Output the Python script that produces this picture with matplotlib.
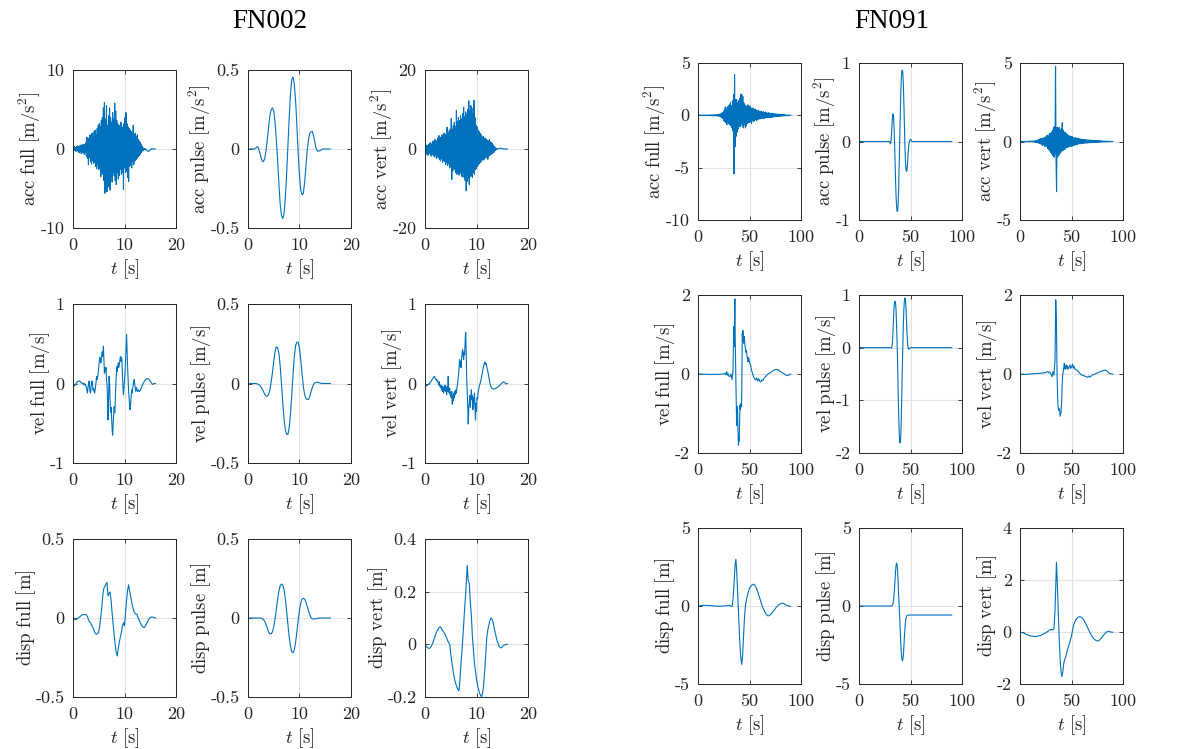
import numpy as np
import matplotlib
matplotlib.use("Agg")
import matplotlib.pyplot as plt

plt.rcParams['mathtext.fontset'] = 'cm'
plt.rcParams['font.family'] = ['DejaVu Serif']
plt.rcParams['axes.unicode_minus'] = False

# ------------------------------------------------------------------ data
FN002_DURATION = 16.0
FN091_DURATION = 90.0

# FN002 (uniform samples over 0..16 s)
FN002_ACC_FULL = [
    0, 0.1, -0.2, 0.3, -0.2, 0.2, -0.3, 0.3, -0.2, 0.4, -0.3,
    0.3, -0.5, 0.4, -0.3, 0.5, -0.6, 0.4, -0.5, 0.6, -0.4, 0.5, -0.7, 0.6, -0.5, 0.8,
    -0.9, 1.5, -1.2, 1.0, -2.0, 1.4, -1.1, 1.8, -1.6, 1.2, -1.9, 2.0, -1.5, 1.6, -1.8,
    2.2, -1.7, 2.4, -2.2, 1.8, -2.5, 2.6, -2.0, 3.0, -2.6,
    3.2, -2.4, 2.8, -3.5, 3.6, -2.9, 4.0, -3.2, 5.2, -4.0,
    5.9, -5.6, 3.8, -4.5, 5.5, -5.4, 3.0, -3.8, 4.2, -4.8,
    5.2, -5.2, 4.0, -3.5, 3.4, -4.2, 4.6, -3.0, 3.8, -3.4,
    5.8, -4.0, 4.8, -4.5, 3.6, -3.0, 3.2, -3.8, 2.9, -3.4,
    3.0, -2.6, 3.4, -3.2, 2.4, -3.0, 2.8, -5.1, 3.2, -2.4,
    4.0, -3.0, 4.6, -2.8, 3.2, -3.6, 2.8, -4.1, 2.6, -2.2,
    2.4, -2.0, 2.2, -2.4, 2.0, -1.6, 3.0, -2.0, 1.8, -1.5,
    2.0, -1.4, 1.6, -1.2, 1.8, -1.0, 1.2, -0.9, 1.0, -0.7,
    0.8, -0.5, 0.6, -0.3, 0.3, -0.2, 0.1, -0.1, 0.05, -0.05,
    0.0, -0.1, -0.15, -0.2, -0.25, -0.3, -0.3, -0.25, -0.2, -0.1,
    -0.05, 0.0, 0.05, 0.05, 0.0, -0.02, 0.0, 0.0, 0.0, 0.0,
]
FN002_ACC_PULSE = [
    0, 0, 0, 0, 0, 0, 0.005, 0.015, 0.01, -0.02, -0.05, -0.075, -0.08, -0.06,
    -0.01, 0.06, 0.14, 0.21, 0.25, 0.26, 0.24, 0.17, 0.06, -0.07, -0.22, -0.35,
    -0.42, -0.44, -0.41, -0.31, -0.16, 0.02, 0.20, 0.35, 0.44, 0.455, 0.41, 0.30,
    0.14, -0.03, -0.17, -0.26, -0.29, -0.28, -0.21, -0.11, -0.01, 0.06, 0.10,
    0.11, 0.11, 0.08, 0.04, 0.0, -0.012, -0.014, -0.01, -0.005, 0, 0, 0, 0, 0, 0, 0,
]
FN002_ACC_VERT = [
    0, 0.6, -0.8, 1.0, -1.4, 0.8, -1.6, 1.2, -1.0, 1.4, -1.2,
    1.6, -1.8, 1.2, -1.4, 2.0, -1.6, 1.8, -2.0, 2.4, -1.5,
    2.2, -2.4, 1.8, -2.0, 2.8, -2.2, 3.4, -2.6, 2.6, -3.0,
    3.0, -2.5, 3.6, -3.4, 2.8, -3.0, 4.0, -3.2, 3.4, -4.0,
    3.8, -3.5, 5.5, -4.2, 4.0, -3.6, 4.6, -4.8, 5.0, -4.4,
    7.7, -7.7, 5.0, -5.6, 6.0, -5.0, 6.8, -5.2, 5.6, -6.0,
    9.8, -6.4, 7.0, -5.8, 8.0, -6.6, 7.2, -5.0, 8.4, -6.2,
    7.6, -7.0, 9.0, -6.0, 10.6, -7.2, 8.2, -8.0, 9.4, -10.6,
    8.8, -8.2, 10.0, -7.4, 12.2, -9.0, 9.6, -7.0, 11.0, -6.8,
    10.4, -7.2, 9.0, -6.0, 12.3, -6.4, 8.0, -5.2, 6.0, -5.0,
    5.6, -4.4, 4.8, -4.0, 4.4, -3.6, 4.0, -3.4, 3.6, -3.0,
    3.0, -2.6, 3.2, -2.8, 2.6, -2.4, 2.8, -2.2, 2.4, -2.0,
    2.2, -2.6, 2.0, -1.8, 2.4, -1.6, 1.8, -1.4, 1.6, -1.2,
    1.4, -1.0, 1.0, -0.8, 0.6, -0.4, 0.3, -0.2, 0.1, -0.05,
    0.05, 0.05, 0.1, 0.1, 0.15, 0.15, 0.2, 0.2, 0.15, 0.1,
    0.1, 0.05, 0.05, 0.0, 0.0, 0.0, 0.0, 0.0, 0.0, 0.0,
]
FN002_VEL_FULL = [
    0, -0.01, -0.02, -0.03, -0.02, -0.01, 0.0, 0.01, 0.02, 0.02, 0.03,
    0.03, 0.03, 0.03, 0.02, 0.02, 0.01, 0.01, 0.0, 0.0, -0.01,
    -0.01, 0.0, -0.02, -0.01, -0.03, -0.05, -0.08, -0.12, -0.05, -0.02,
    0.03, -0.04, -0.10, -0.12, -0.04, 0.0, 0.03, -0.03, -0.08, -0.06,
    -0.10, -0.12, -0.08, -0.02, 0.04, 0.09, 0.05, 0.08, 0.14, 0.20,
    0.28, 0.33, 0.30, 0.26, 0.30, 0.38, 0.40, 0.34, 0.47, 0.30,
    0.13, 0.20, 0.15, 0.20, 0.05, 0.0, -0.20, -0.46, -0.20, 0.09,
    0.02, -0.20, -0.36, -0.30, -0.45, -0.58, -0.65, -0.50, -0.38, -0.29,
    -0.37, -0.25, -0.05, 0.10, 0.21, 0.15, 0.22, 0.26, 0.20, 0.25,
    0.30, 0.34, 0.28, 0.33, 0.30, 0.10, -0.05, -0.14, -0.05, 0.05,
    0.13, 0.30, 0.45, 0.62, 0.40, 0.21, 0.05, -0.10, -0.20, -0.28,
    -0.33, -0.25, -0.15, -0.08, -0.12, -0.05, -0.02, 0.03, 0.05, -0.02,
    -0.06, -0.10, -0.05, -0.07, -0.09, -0.10, -0.08, -0.09, -0.10, -0.09,
    -0.08, -0.06, -0.05, -0.03, -0.02, 0.0, 0.01, 0.02, 0.03, 0.04,
    0.05, 0.055, 0.06, 0.06, 0.06, 0.06, 0.055, 0.05, 0.04, 0.03,
    0.02, 0.01, 0.0, -0.01, -0.01, -0.01, 0.0, 0.0, 0.0, 0.0,
]
FN002_VEL_PULSE = [
    0, 0, 0, 0, 0, 0, 0, -0.002, -0.005, -0.01, -0.02, -0.035, -0.05, -0.068,
    -0.078, -0.08, -0.07, -0.04, 0.01, 0.07, 0.14, 0.20, 0.23, 0.225, 0.19, 0.11,
    0.0, -0.12, -0.22, -0.29, -0.32, -0.32, -0.28, -0.19, -0.07, 0.06, 0.17, 0.24,
    0.26, 0.26, 0.22, 0.15, 0.06, -0.02, -0.07, -0.095, -0.10, -0.10, -0.08, -0.05,
    -0.025, -0.005, 0.005, 0.008, 0.008, 0.006, 0.003, 0.001, 0, 0, 0, 0, 0, 0, 0,
]
FN002_VEL_VERT = [
    0, -0.02, -0.03, -0.03, -0.02, -0.02, -0.01, -0.01, 0.0, 0.0, 0.01,
    0.02, 0.03, 0.04, 0.05, 0.06, 0.07, 0.08, 0.09, 0.08, 0.06,
    0.05, 0.04, 0.05, 0.02, 0.03, 0.0, -0.02, 0.02, -0.04, -0.05,
    -0.02, -0.08, -0.03, -0.10, -0.05, -0.12, -0.04, -0.09, -0.02, -0.10,
    -0.06, -0.14, -0.04, -0.10, 0.09, -0.08, -0.12, -0.06, -0.15, -0.12,
    -0.18, -0.10, -0.26, -0.15, -0.22, -0.12, -0.18, -0.10, -0.14, -0.08,
    -0.12, -0.05, -0.02, 0.05, 0.10, 0.18, 0.30, 0.22, 0.28, 0.20,
    0.32, 0.38, 0.43, 0.35, 0.30, 0.40, 0.36, 0.55, 0.64, 0.40,
    0.05, -0.12, -0.30, -0.51, -0.30, -0.25, -0.15, -0.30, -0.20, -0.08,
    -0.20, -0.15, -0.33, -0.18, -0.25, -0.12, -0.30, -0.46, -0.25, -0.35,
    -0.18, -0.20, -0.12, -0.08, -0.05, -0.02, 0.0, 0.03, 0.05, 0.09,
    0.12, 0.16, 0.19, 0.22, 0.25, 0.27, 0.26, 0.24, 0.25, 0.21,
    0.18, 0.15, 0.12, 0.08, 0.04, 0.0, -0.02, -0.04, -0.05, -0.06,
    -0.065, -0.07, -0.07, -0.07, -0.07, -0.065, -0.06, -0.06, -0.055, -0.05,
    -0.045, -0.04, -0.035, -0.03, -0.02, -0.015, -0.01, -0.005, 0.0, 0.01,
    0.02, 0.02, 0.02, 0.015, 0.01, 0.0, -0.005, -0.005, 0.0, 0.0,
]
FN002_DISP_FULL = [
    0, -0.005, -0.01, -0.01, -0.005,
    0.0, 0.005, 0.01, 0.015, 0.02,
    0.02, 0.022, 0.022, 0.02, 0.01,
    -0.01, -0.025, -0.03, -0.045, -0.055,
    -0.07, -0.09, -0.1, -0.102, -0.1,
    -0.085, -0.05, 0.01, 0.07, 0.15,
    0.19, 0.2, 0.215, 0.225, 0.14,
    0.155, 0.165, 0.11, 0.03, -0.04,
    -0.11, -0.17, -0.22, -0.24, -0.19,
    -0.15, -0.12, -0.09, -0.05, -0.03,
    -0.05, 0.03, 0.11, 0.175, 0.21,
    0.17, 0.14, 0.1, 0.07, 0.045,
    0.03, 0.025, 0.025, 0.005, -0.01,
    -0.025, -0.04, -0.05, -0.058, -0.06,
    -0.055, -0.04, -0.03, -0.015, -0.005,
    0.003, 0.006, 0.006, 0.004, 0.002,
    0.0,
]
FN002_DISP_PULSE = [
    0, 0, 0, 0, 0, 0, 0, 0, 0, 0, 0,
    -0.003, -0.01, -0.022, -0.04, -0.065, -0.088, -0.1, -0.1, -0.088, -0.055,
    -0.005, 0.055, 0.12, 0.17, 0.205, 0.215, 0.21, 0.18, 0.12, 0.045, -0.04,
    -0.12, -0.18, -0.215, -0.22, -0.2, -0.15, -0.085, -0.015, 0.05, 0.095, 0.12,
    0.125, 0.12, 0.1, 0.075, 0.045, 0.02, 0.002, -0.005, -0.006, -0.006, -0.004,
    -0.002, -0.001, 0, 0, 0, 0, 0, 0, 0, 0, 0,
]
FN002_DISP_VERT = [
    0, -0.006, -0.011, -0.014, -0.015,
    -0.014, -0.008, 0.0, 0.01, 0.022,
    0.034, 0.044, 0.053, 0.06, 0.065,
    0.066, 0.06, 0.053, 0.047, 0.042,
    0.034, 0.024, 0.014, 0.006, 0.0,
    -0.036, -0.065, -0.093, -0.118, -0.138,
    -0.152, -0.163, -0.172, -0.176, -0.13,
    -0.07, -0.02, 0.04, 0.105, 0.165,
    0.226, 0.3, 0.24, 0.232, 0.16,
    0.11, 0.03, -0.02, -0.07, -0.1,
    -0.135, -0.155, -0.172, -0.185, -0.195,
    -0.198, -0.185, -0.15, -0.1, -0.035,
    0.028, 0.055, 0.073, 0.09, 0.1,
    0.097, 0.085, 0.067, 0.047, 0.03,
    0.013, 0.003, -0.007, -0.013, -0.013,
    -0.01, -0.006, -0.003, -0.001, 0.0,
    0.0,
]

# FN091 accelerations (uniform samples over 0..90 s)
FN091_ACC_FULL = [
    0, 0.02, -0.02, 0.03, -0.03, 0.02, -0.02, 0.03, -0.03, 0.02,
    -0.03, 0.03, -0.02, 0.03, -0.03, 0.02, -0.02, 0.03, -0.03, 0.02,
    -0.03, 0.04, -0.04, 0.03, -0.04, 0.04, -0.03, 0.05, -0.05, 0.04,
    -0.05, 0.06, -0.05, 0.05, -0.06, 0.06, -0.05, 0.07, -0.07, 0.06,
    -0.08, 0.1, -0.1, 0.12, -0.15, 0.15, -0.2, 0.25, -0.3, 0.3,
    -0.5, 0.5, -0.6, 0.8, -0.7, 0.6, -0.9, 0.8, -0.6, 0.9,
    -0.8, 1.0, -0.9, 1.2, -1.0, 0.9, -1.2, 1.4, -1.5, 2.0,
    -5.6, 3.9, -3.0, 1.5, -2.0, 1.5, -1.6, 1.2, -1.3, 1.4,
    -1.0, 1.6, -1.1, 2.0, -0.8, 2.0, -1.0, 1.8, -1.2, 1.2,
    -0.9, 1.0, -1.2, 0.8, -1.0, 0.9, -0.8, 1.0, -0.7, 0.8,
    -0.7, 0.9, -0.6, 0.7, -0.8, 0.6, -0.5, 0.7, -0.6, 0.5,
    -0.5, 0.6, -0.4, 0.5, -0.5, 0.4, -0.4, 0.5, -0.35, 0.4,
    -0.35, 0.4, -0.3, 0.35, -0.3, 0.3, -0.25, 0.35, -0.3, 0.25,
    -0.25, 0.3, -0.2, 0.25, -0.25, 0.2, -0.2, 0.25, -0.2, 0.2,
    -0.18, 0.2, -0.2, 0.15, -0.18, 0.2, -0.15, 0.15, -0.15, 0.12,
    -0.12, 0.15, -0.12, 0.1, -0.12, 0.12, -0.1, 0.1, -0.1, 0.08,
    -0.08, 0.1, -0.08, 0.08, -0.07, 0.06, -0.06, 0.07, -0.05, 0.05,
    -0.05, 0.04, -0.04, 0.03, -0.03, 0.02, -0.02, 0.02, -0.01, 0.01,
    0,
]
FN091_ACC_VERT = [
    0, 0.01, -0.01, 0.01, -0.01, 0.01, -0.01, 0.01, -0.01, 0.01,
    -0.01, 0.01, -0.01, 0.01, -0.01, 0.01, -0.01, 0.02, -0.02, 0.02,
    -0.02, 0.02, -0.02, 0.03, -0.03, 0.03, -0.03, 0.04, -0.04, 0.04,
    -0.05, 0.05, -0.05, 0.06, -0.08, 0.1, -0.1, 0.15, -0.12, 0.15,
    -0.15, 0.2, -0.18, 0.2, -0.25, 0.2, -0.2, 0.25, -0.3, 0.25,
    -0.3, 0.35, -0.3, 0.4, -0.45, 0.35, -0.5, 0.5, -0.6, 0.5,
    -0.7, 0.6, -0.8, 0.7, -0.9, 0.9, -1.0, 0.95, -0.8, 4.8,
    -1.2, -3.2, 0.9, -1.0, 0.8, -0.9, 0.9, -0.8, 0.7, -0.7,
    0.8, -0.6, 1.2, -0.6, 0.7, -0.5, 0.6, -0.5, 0.6, -0.4,
    0.5, -0.4, 0.45, -0.35, 0.4, -0.35, 0.35, -0.3, 0.35, -0.3,
    0.3, -0.3, 0.3, -0.25, 0.25, -0.25, 0.2, -0.2, 0.25, -0.2,
    0.2, -0.2, 0.2, -0.15, 0.2, -0.15, 0.15, -0.15, 0.15, -0.12,
    0.15, -0.12, 0.12, -0.12, 0.12, -0.1, 0.12, -0.1, 0.1, -0.1,
    0.1, -0.1, 0.1, -0.08, 0.1, -0.08, 0.08, -0.08, 0.08, -0.07,
    0.08, -0.07, 0.07, -0.06, 0.07, -0.06, 0.06, -0.06, 0.06, -0.05,
    0.05, -0.05, 0.05, -0.05, 0.05, -0.04, 0.05, -0.04, 0.04, -0.04,
    0.04, -0.03, 0.03, -0.03, 0.03, -0.03, 0.02, -0.02, 0.02, -0.02,
    0.02, -0.02, 0.01, -0.01, 0.01, -0.01, 0.01, -0.01, 0.0, 0.0,
    0,
]
# FN091 (time [s], value) samples
FN091_ACC_PULSE = [
    (0, 0), (29.5, 0), (30, -0.01), (30.5, -0.03), (31, -0.01), (31.5, 0.08),
    (32, 0.2), (32.5, 0.31), (33, 0.35), (33.5, 0.33), (34, 0.2), (34.5, 0.0),
    (35, -0.25), (35.5, -0.5), (36, -0.7), (36.5, -0.83), (37, -0.89), (37.5, -0.88),
    (38, -0.8), (38.5, -0.6), (39, -0.3), (39.5, 0.0), (40, 0.3), (40.5, 0.57),
    (41, 0.78), (41.5, 0.89), (42, 0.91), (42.5, 0.88), (43, 0.75), (43.5, 0.52),
    (44, 0.25), (44.5, -0.02), (45, -0.22), (45.5, -0.34), (46, -0.38), (46.5, -0.37),
    (47, -0.3), (47.5, -0.2), (48, -0.1), (48.5, -0.03), (49, 0.0), (49.5, 0.02),
    (50, 0.03), (50.5, 0.02), (51, 0.0), (90, 0.0),
]
FN091_VEL_FULL = [
    (0, 0), (10, -0.01), (20, -0.01), (25, 0.0), (26, 0.02), (27, -0.02), (27.7, 0.06),
    (28.5, -0.03), (29, 0.02), (30, -0.05), (31, -0.07), (32, 0.0), (33, -0.14),
    (33.5, -0.05), (34, 0.1), (34.4, 0.7), (34.7, 1.2), (35.0, 0.9), (35.2, 0.7),
    (35.5, 1.4), (35.8, 1.9), (36.1, 1.0), (36.5, 0.27), (37.0, -0.5), (37.5, -1.3),
    (38.0, -1.0), (38.3, -0.83), (38.8, -1.4), (39.3, -1.8), (39.7, -1.6), (40.0, -1.7),
    (40.4, -1.2), (40.7, -0.79), (41.1, -0.9), (41.5, -0.75), (41.9, -0.8), (42.3, -0.83),
    (42.7, 0.2), (43.0, 1.03), (43.3, 0.9), (43.6, 1.1), (44.0, 0.85), (44.3, 0.78),
    (44.7, 0.9), (45.0, 0.95), (45.5, 0.75), (46.0, 0.65), (46.5, 0.55), (47.0, 0.6),
    (47.5, 0.48), (48.0, 0.4), (48.5, 0.31), (49.0, 0.42), (49.5, 0.37), (50.0, 0.3),
    (51.0, 0.23), (52.0, 0.1), (53.0, 0.0), (54.0, -0.07), (55.0, -0.12), (56.0, -0.15),
    (57.0, -0.1), (58.0, -0.18), (59.0, -0.12), (60.0, -0.19), (61.0, -0.2), (62.0, -0.15),
    (63.0, -0.17), (64.0, -0.11), (66.0, -0.05), (68.0, 0.0), (70.0, 0.03), (72.0, 0.07),
    (74.0, 0.1), (76.0, 0.12), (77.0, 0.1), (78.0, 0.11), (80.0, 0.06), (82.0, 0.03),
    (84.0, 0.0), (86.0, -0.04), (88.0, -0.03), (90.0, 0.0),
]
FN091_VEL_PULSE = [
    (0, 0), (31, 0), (31.5, -0.01), (32, 0.02), (32.5, 0.1), (33, 0.3), (33.5, 0.55),
    (34, 0.75), (34.5, 0.86), (35, 0.88), (35.5, 0.85), (36, 0.7), (36.5, 0.4),
    (37, 0.1), (37.5, -0.3), (38, -0.8), (38.5, -1.25), (39, -1.6), (39.5, -1.78),
    (40, -1.81), (40.5, -1.7), (41, -1.4), (41.5, -0.95), (42, -0.45), (42.5, 0.0),
    (43, 0.4), (43.5, 0.7), (44, 0.88), (44.5, 0.94), (45, 0.93), (45.5, 0.8),
    (46, 0.58), (46.5, 0.33), (47, 0.13), (47.5, 0.02), (48, -0.02), (48.5, -0.03),
    (49, -0.02), (50, 0.0), (90, 0.0),
]
FN091_VEL_VERT = [
    (0, 0), (5, -0.01), (10, 0.0), (15, 0.01), (20, 0.02), (24, 0.03), (27, 0.06),
    (28, 0.03), (29, 0.05), (30, 0.0), (31, -0.07), (32, 0.06), (33, -0.03), (34, 0.36),
    (34.7, 1.88), (35.3, 1.37), (36, 0.0), (36.7, -0.75), (37.5, -0.92), (38.3, -0.88),
    (39, -1.07), (39.8, -0.98), (40.5, -0.66), (41, -0.24), (41.5, 0.0), (42.3, 0.1),
    (43, 0.27), (43.5, 0.15), (44, 0.12), (44.5, 0.2), (45, 0.23), (45.5, 0.14),
    (46, 0.2), (46.7, 0.12), (47.5, 0.17), (48.5, 0.23), (49.2, 0.14), (50, 0.17),
    (51, 0.25), (51.7, 0.15), (52.5, 0.2), (53.2, 0.12), (54, 0.12), (55, 0.1),
    (56, 0.08), (57, 0.05), (58, 0.02), (60, -0.03), (62, -0.04), (64, -0.07),
    (66, -0.08), (67, -0.05), (68, -0.08), (70, -0.03), (73, 0.0), (76, 0.04),
    (80, 0.08), (83, 0.1), (85, 0.06), (87, 0.01), (89.5, 0.0), (90, 0.0),
]
FN091_DISP_FULL = [
    (0, 0), (5, 0.04), (10, 0.04), (15, 0.01), (20, -0.02), (25, 0.0), (30, 0.04),
    (32, 0.0), (33, -0.04), (34, 0.39), (35, 1.46), (36, 2.64), (36.8, 3.0), (37.5, 2.3),
    (38.5, 0.8), (39.5, -0.69), (40.5, -2.2), (41.5, -3.26), (42.5, -3.75), (43.3, -3.2),
    (44, -2.2), (45, -0.9), (46, 0.0), (47, 0.39), (48.5, 0.82), (50, 1.14), (52, 1.33),
    (54, 1.4), (56, 1.25), (58, 0.92), (60, 0.49), (62, 0.06), (64, -0.26), (66, -0.52),
    (68, -0.64), (70, -0.58), (72, -0.43), (74, -0.26), (76, -0.08), (78, 0.06),
    (80, 0.13), (82, 0.19), (84, 0.13), (86, 0.04), (88, 0.0), (90, -0.02),
]
FN091_DISP_PULSE = [
    (0, 0), (31.5, 0), (32, 0.01), (32.5, 0.05), (33, 0.15), (33.5, 0.35), (34, 0.7),
    (34.5, 1.15), (35, 1.7), (35.5, 2.25), (36, 2.6), (36.5, 2.75), (37, 2.65),
    (37.5, 2.2), (38, 1.5), (38.5, 0.7), (39, 0.05), (39.5, -0.7), (40, -1.5),
    (40.5, -2.3), (41, -2.9), (41.5, -3.3), (42, -3.5), (42.5, -3.45), (43, -3.2),
    (43.5, -2.7), (44, -2.1), (44.5, -1.55), (45, -1.1), (45.5, -0.85), (46, -0.7),
    (46.5, -0.62), (47, -0.59), (48, -0.58), (90, -0.58),
]
FN091_DISP_VERT = [
    (0, 0), (3, -0.03), (6, -0.09), (10, -0.15), (15, -0.18), (20, -0.13), (25, -0.03),
    (28, 0.05), (30, 0.1), (32, 0.08), (33, 0.14), (34, 0.85), (34.8, 1.87), (35.4, 2.67),
    (36, 2.13), (37, 0.97), (38, -0.18), (39, -1.08), (40, -1.59), (40.7, -1.72),
    (41.5, -1.55), (42.5, -1.2), (43.5, -1.05), (44.5, -0.95), (46, -0.69), (48, -0.44),
    (50, -0.15), (52, 0.27), (54, 0.46), (56, 0.56), (58, 0.59), (60, 0.56), (62, 0.46),
    (64, 0.31), (66, 0.14), (68, -0.03), (70, -0.18), (72, -0.28), (74, -0.33),
    (76, -0.35), (78, -0.28), (80, -0.18), (82, -0.08), (84, 0.0), (86, 0.03), (88, 0.0),
    (90, -0.01),
]

ROW_NAMES = ["acc", "vel", "disp"]
COL_NAMES = ["full", "pulse", "vert"]
ROW_UNITS = ["m/s^2", "m/s", "m"]

FN002_YTICKS = [
    [[-10, 0, 10], [-0.5, 0, 0.5], [-20, 0, 20]],
    [[-1, 0, 1], [-0.5, 0, 0.5], [-1, 0, 1]],
    [[-0.5, 0, 0.5], [-0.5, 0, 0.5], [-0.2, 0, 0.2, 0.4]],
]
FN091_YTICKS = [
    [[-10, -5, 0, 5], [-1, 0, 1], [-5, 0, 5]],
    [[-2, 0, 2], [-2, -1, 0, 1], [-2, 0, 2]],
    [[-5, 0, 5], [-5, 0, 5], [-2, 0, 2, 4]],
]
FN002_XTICKS = [0, 10, 20]
FN091_XTICKS = [0, 50, 100]


def uniform(values, duration):
    v = np.asarray(values, dtype=float)
    return np.linspace(0.0, duration, len(v)), v


def pairs(samples):
    a = np.asarray(samples, dtype=float)
    return a[:, 0], a[:, 1]


FN002_SERIES = [
    [uniform(FN002_ACC_FULL, FN002_DURATION), uniform(FN002_ACC_PULSE, FN002_DURATION),
     uniform(FN002_ACC_VERT, FN002_DURATION)],
    [uniform(FN002_VEL_FULL, FN002_DURATION), uniform(FN002_VEL_PULSE, FN002_DURATION),
     uniform(FN002_VEL_VERT, FN002_DURATION)],
    [uniform(FN002_DISP_FULL, FN002_DURATION), uniform(FN002_DISP_PULSE, FN002_DURATION),
     uniform(FN002_DISP_VERT, FN002_DURATION)],
]
FN091_SERIES = [
    [uniform(FN091_ACC_FULL, FN091_DURATION), pairs(FN091_ACC_PULSE),
     uniform(FN091_ACC_VERT, FN091_DURATION)],
    [pairs(FN091_VEL_FULL), pairs(FN091_VEL_PULSE), pairs(FN091_VEL_VERT)],
    [pairs(FN091_DISP_FULL), pairs(FN091_DISP_PULSE), pairs(FN091_DISP_VERT)],
]

# ------------------------------------------------------------------ layout / style
W, H = 1185, 749
LINE_COLOR = "#0072BD"
AX_COLOR = "#262626"
GRID_COLOR = "#e3e3e3"
TICK_FS = 13
LABEL_FS = 13.5
YLABEL_GAP_PX = -2

GROUPS = [
    dict(title="FN002", title_x=270, series=FN002_SERIES, yticks=FN002_YTICKS,
         xticks=FN002_XTICKS, lefts=[73, 248, 425],
         rows=[(70, 228), (304, 463), (539, 697)]),
    dict(title="FN091", title_x=892, series=FN091_SERIES, yticks=FN091_YTICKS,
         xticks=FN091_XTICKS, lefts=[698, 859, 1020],
         rows=[(63, 220), (295, 453), (528, 684)]),
]
AX_W = 103


def tick_text(v):
    return "%g" % v


fig = plt.figure(figsize=(W / 100, H / 100), dpi=100)
all_axes = []

for g in GROUPS:
    fig.text(g["title_x"] / W, 1 - 22 / H, g["title"], ha="center", va="center",
             fontsize=19.5, family="Liberation Serif", color="black")
    for r, (top, bot) in enumerate(g["rows"]):
        for c, left in enumerate(g["lefts"]):
            ax = fig.add_axes([left / W, 1 - bot / H, AX_W / W, (bot - top) / H])
            t, y = g["series"][r][c]
            ax.plot(t, y, color=LINE_COLOR, lw=0.8)
            xt = g["xticks"]
            yt = g["yticks"][r][c]
            ax.set_xlim(xt[0], xt[-1])
            ax.set_ylim(yt[0], yt[-1])
            ax.set_xticks(xt)
            ax.set_xticklabels([tick_text(v) for v in xt], fontfamily="cmr10")
            ax.set_yticks(yt)
            ax.set_yticklabels([tick_text(v) for v in yt], fontfamily="cmr10")
            ax.grid(True, color=GRID_COLOR, lw=0.8)
            ax.set_axisbelow(True)
            ax.tick_params(direction="in", length=3, width=0.6, colors=AX_COLOR,
                           labelsize=TICK_FS, top=True, right=True)
            ax.tick_params(axis="x", pad=7)
            ax.tick_params(axis="y", pad=6)
            for s in ax.spines.values():
                s.set_color(AX_COLOR)
                s.set_linewidth(0.7)
            ax.set_xlabel(r"$t\ \mathrm{[s]}$", fontsize=LABEL_FS, color=AX_COLOR, labelpad=3)
            ax.set_ylabel(r"$\mathrm{%s\ %s\ [%s]}$" % (ROW_NAMES[r], COL_NAMES[c], ROW_UNITS[r]),
                          fontsize=LABEL_FS, color=AX_COLOR)
            all_axes.append(ax)

# place each y label just left of its tick labels
fig.canvas.draw()
renderer = fig.canvas.get_renderer()
for ax in all_axes:
    x0 = min(lbl.get_window_extent(renderer).x0 for lbl in ax.get_yticklabels()
             if lbl.get_text())
    xa = ax.transAxes.inverted().transform((x0 - YLABEL_GAP_PX, 0))[0]
    ax.yaxis.set_label_coords(xa, 0.5)

fig.savefig("out.png", dpi=100)
